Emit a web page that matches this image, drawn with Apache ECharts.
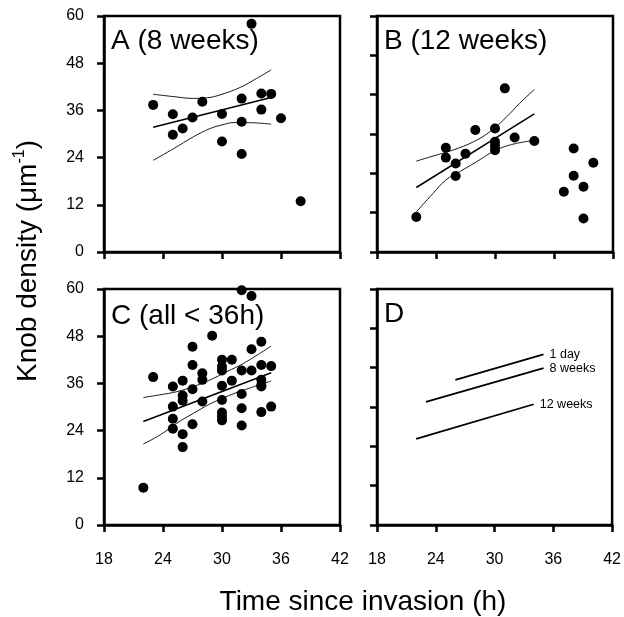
<!DOCTYPE html>
<html>
<head>
<meta charset="utf-8">
<script src="https://cdn.jsdelivr.net/npm/echarts@6/dist/echarts.min.js"></script>
<style>
  html, body { margin: 0; padding: 0; background: #fff; }
  #chart { width: 624px; height: 617px; }
</style>
</head>
<body>
<div id="chart"></div>
<script>
// ---- data ----
const panelNames = ['A (8 weeks)', 'B (12 weeks)', 'C (all < 36h)', 'D'];
const xRange = [18, 42];      // hours
const xStep = 6;
const yRange = [0, 60];       // knobs per um
const yStepLeft = 12;
const yStepRight = 10;

// A : 8 weeks
const pointsA = [[23,37.4],[25,35],[25,29.8],[26,31.4],[27,34.2],[28,38.2],[30,35.1],[30,28.1],
  [32,39],[32,33.1],[32,24.9],[33,58],[34,40.3],[34,36.2],[35,40.2],[36,34],[38,12.9]];
const fitA = [[23,31.7],[35,39.3]];
const upperA = [[23,40.1],[25.1,39.5],[27.1,39.05],[28.5,39.2],[30,40.1],[31.9,41.9],[33.5,44.1],[35,46.3]];
const lowerA = [[23,23.3],[25.1,26.3],[27.1,29.3],[28.8,31.4],[30,32.3],[31.2,32.9],[32.5,32.9],[35,32.5]];

// B : 12 weeks
const pointsB = [[22,8.9],[25,26.5],[25,24],[26,22.5],[26,19.3],[27,25],[28,31],[30,31.4],[30,28],
  [30,27],[30,25.9],[31,41.6],[32,29.1],[34,28.2],[37,15.3],[38,26.3],[38,19.4],[39,16.6],[39,8.5],[40,22.7]];
const fitB = [[22,16.4],[34,35.1]];
const upperB = [[22,23.1],[23.7,24.4],[25.7,25.9],[27.8,28],[29.5,30.6],[31.2,34.4],[32.5,37.8],[34,41.3]];
const lowerB = [[22,10.2],[23.7,14.9],[25,18.3],[26.4,20.4],[28.1,22.9],[29.8,25.5],[31.5,27.2],[34,28.4]];

// C : all < 36h
const pointsC = [[22,9.5],[23,37.6],[25,35.2],[25,30.1],[25,27],[25,24.5],[26,36.7],[26,32.9],[26,31.6],
  [26,23.1],[26,19.8],[27,45.3],[27,40.7],[27,34.5],[27,25.6],[28,38.6],[28,36.9],[28,31.4],[29,48.1],
  [30,42],[30,40.3],[30,39.3],[30,35.4],[30,31.8],[30,28.6],[30,27.6],[30,26.6],[31,42],[31,36.7],
  [32,59.7],[32,39.3],[32,33.3],[32,29.7],[32,25.3],[33,58.2],[33,44.7],[33,39.3],[34,46.6],[34,40.7],
  [34,36.9],[34,35.6],[34,35.2],[34,28.7],[35,40.4],[35,30.1]];
const fitC = [[22,26.3],[35,38.7]];
const upperC = [[22,32.4],[23.7,33.1],[25.4,33.9],[27.1,35.2],[28.8,36.9],[30.5,39],[32.2,41.1],[35,45.5]];
const lowerC = [[22,20.6],[23.7,22.9],[25.4,25.9],[27.1,28.4],[28.8,30.8],[30.5,32.7],[32.2,34.3],[35,36.6]];

// D : fitted lines
const lineNames = ['1 day', '8 weeks', '12 weeks'];
const day1 = [[26,36.9],[35,43.4]];
const week8 = [[23,31.3],[35,39.9]];
const week12 = [[22,21.9],[34,30.7]];

// ---- layout ----
const FONT = '"Liberation Sans", Arial, Helvetica, sans-serif';
const SIZE = 236;
const grids = [
  { left: 104, top: 16 },
  { left: 377, top: 16 },
  { left: 104, top: 289 },
  { left: 377, top: 289 }
].map(g => ({ ...g, width: SIZE, height: SIZE, show: true, borderColor: '#000', borderWidth: 2.5 }));

const chart = echarts.init(document.getElementById('chart'), null, { renderer: 'canvas' });

function xAxisFor(i) {
  return {
    type: 'value', gridIndex: i, min: xRange[0], max: xRange[1], interval: xStep,
    axisLine: { show: true, onZero: false, lineStyle: { color: '#000', width: 2.5 } },
    axisTick: { show: true, length: 7, lineStyle: { color: '#000', width: 2.5 } },
    axisLabel: { show: i >= 2, margin: 27, fontSize: 16, color: '#000', fontFamily: FONT },
    splitLine: { show: false }
  };
}

function yAxisFor(i) {
  const left = i % 2 === 0;
  return {
    type: 'value', gridIndex: i, min: yRange[0], max: yRange[1],
    interval: left ? yStepLeft : yStepRight,
    axisLine: { show: true, onZero: false, lineStyle: { color: '#000', width: 2.5 } },
    axisTick: { show: true, length: 7, lineStyle: { color: '#000', width: 2.5 } },
    axisLabel: { show: left, margin: 20, fontSize: 16, color: '#000', fontFamily: FONT },
    splitLine: { show: false }
  };
}

function dots(data, i) {
  return {
    type: 'scatter', xAxisIndex: i, yAxisIndex: i, data: data,
    symbol: 'circle', symbolSize: 10, clip: false,
    itemStyle: { color: '#000', opacity: 1 }
  };
}

function curve(data, i, width, name) {
  return {
    type: 'line', name: name, xAxisIndex: i, yAxisIndex: i, data: data,
    showSymbol: false, smooth: data.length > 2 ? 0.4 : false,
    lineStyle: { color: '#000', width: width }
  };
}

const series = [
  dots(pointsA, 0), curve(fitA, 0, 1.5), curve(upperA, 0, 0.9), curve(lowerA, 0, 0.9),
  dots(pointsB, 1), curve(fitB, 1, 1.5), curve(upperB, 1, 0.9), curve(lowerB, 1, 0.9),
  dots(pointsC, 2), curve(fitC, 2, 1.5), curve(upperC, 2, 0.9), curve(lowerC, 2, 0.9)
];
[day1, week8, week12].forEach((d, k) => {
  const s = curve(d, 3, 1.8, lineNames[k]);
  s.endLabel = {
    show: true, formatter: '{a}', distance: 6,
    fontSize: 12.5, color: '#000', fontFamily: FONT
  };
  series.push(s);
});

// panel letters
const labelPos = [[111, 43], [384, 43], [111, 318], [384, 316]];
const panelLabels = panelNames.map((t, i) => ({
  type: 'text', left: labelPos[i][0], top: labelPos[i][1] - 16,
  style: { text: t, font: '28px ' + FONT, fill: '#000' }
}));

const option = {
  animation: false,
  backgroundColor: '#fff',
  grid: grids,
  xAxis: [0, 1, 2, 3].map(xAxisFor),
  yAxis: [0, 1, 2, 3].map(yAxisFor),
  series: series,
  graphic: panelLabels.concat([
    {
      type: 'text', x: 363, y: 602,
      style: {
        text: 'Time since invasion (h)', font: '28px ' + FONT, fill: '#000',
        align: 'center', verticalAlign: 'middle'
      }
    },
    {
      type: 'text', x: 28, y: 261, rotation: Math.PI / 2,
      style: {
        text: '{a|Knob density (\u03bcm}{s|-1}{a|)}',
        align: 'center', verticalAlign: 'middle', fill: '#000',
        rich: {
          a: { fontSize: 28, fontFamily: FONT, color: '#000', lineHeight: 32 },
          s: { fontSize: 16, fontFamily: FONT, color: '#000', verticalAlign: 'top', lineHeight: 32 }
        }
      }
    }
  ])
};

chart.setOption(option);
</script>
</body>
</html>
